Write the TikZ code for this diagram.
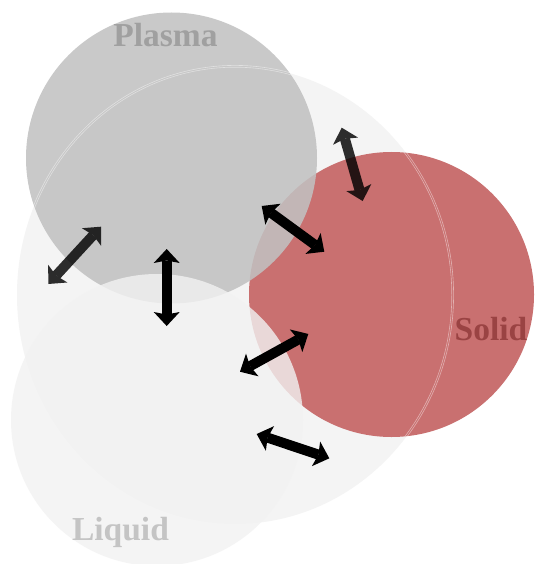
\documentclass[tikz,border=0pt]{standalone}
\usepackage{fontspec}
\setmainfont{Liberation Serif}
\usetikzlibrary{arrows.meta}
\definecolor{bigfill}{RGB}{244,244,244}
\definecolor{solidfill}{RGB}{201,112,112}
\definecolor{plasmafill}{RGB}{193,193,193}
\definecolor{liquidfill}{RGB}{242,242,242}
\definecolor{plasmatext}{RGB}{160,160,160}
\definecolor{solidtext}{RGB}{154,67,67}
\definecolor{liquidtext}{RGB}{196,196,196}
\begin{document}
\begin{tikzpicture}[x=1pt,y=-1pt,
  fattip/.style={},
  fatarrow/.style={line width=10pt,
    {Stealth[length=14pt,width=26pt,inset=2.5pt,line width=0pt]}-{Stealth[length=14pt,width=26pt,inset=2.5pt,line width=0pt]}},
  statelabel/.style={font=\fontsize{33.5}{40}\selectfont\bfseries, anchor=base, inner sep=0pt},
  rimline/.style={white, opacity=0.45, line width=0.6pt}]
\useasboundingbox (0,0) rectangle (536,564);
\fill[white] (0,0) rectangle (536,564);
\clip (0,0) rectangle (536,564);
\coordinate (bigc) at (235,295);
\coordinate (solidc) at (391.5,294.5);
\coordinate (plasmac) at (171.5,158);
\coordinate (liquidc) at (157,420);
% regions
\fill[bigfill] (bigc) ellipse [x radius=218pt, y radius=229pt];
\fill[solidfill] (solidc) circle [radius=142.5pt];
\fill[plasmafill, fill opacity=0.87] (plasmac) circle [radius=145.5pt];
\begin{scope}
  \clip (plasmac) circle [radius=145.5pt];
  \draw[rimline] (bigc) ellipse [x radius=216.8pt, y radius=227.8pt];
  \draw[rimline] (bigc) ellipse [x radius=218.6pt, y radius=229.6pt];
\end{scope}
\begin{scope}
  \clip (solidc) circle [radius=142.5pt];
  \draw[rimline] (bigc) ellipse [x radius=216.8pt, y radius=227.8pt];
  \draw[rimline] (bigc) ellipse [x radius=218.6pt, y radius=229.6pt];
\end{scope}
\fill[liquidfill, fill opacity=0.8] (liquidc) circle [radius=146pt];
% arrow end points
\coordinate (a1s) at (48.3,284);
\coordinate (a1e) at (101,226.7);
\coordinate (a2s) at (166.7,249);
\coordinate (a2e) at (166.7,326);
\coordinate (a3s) at (261.7,206);
\coordinate (a3e) at (324.3,251.7);
\coordinate (a4s) at (341.7,127.7);
\coordinate (a4e) at (362.7,201);
\coordinate (a5s) at (240,371.7);
\coordinate (a5e) at (308.3,334);
\coordinate (a6s) at (256.7,434);
\coordinate (a6e) at (329.3,458.3);
\begin{scope}[transparency group, opacity=0.82]
  \draw[fatarrow] (a1s) -- (a1e);
\end{scope}
\begin{scope}[transparency group, opacity=0.82]
  \draw[fatarrow] (a4s) -- (a4e);
\end{scope}
\draw[fatarrow] (a2s) -- (a2e);
\draw[fatarrow] (a3s) -- (a3e);
\draw[fatarrow] (a5s) -- (a5e);
\draw[fatarrow] (a6s) -- (a6e);
% labels
\node[statelabel, text=plasmatext] (plasmalabel) at (165.5,46.6) {Plasma};
\node[statelabel, text=solidtext] (solidlabel) at (491,340) {Solid};
\node[statelabel, text=liquidtext] (liquidlabel) at (120.5,540.7) {Liquid};
\end{tikzpicture}
\end{document}
